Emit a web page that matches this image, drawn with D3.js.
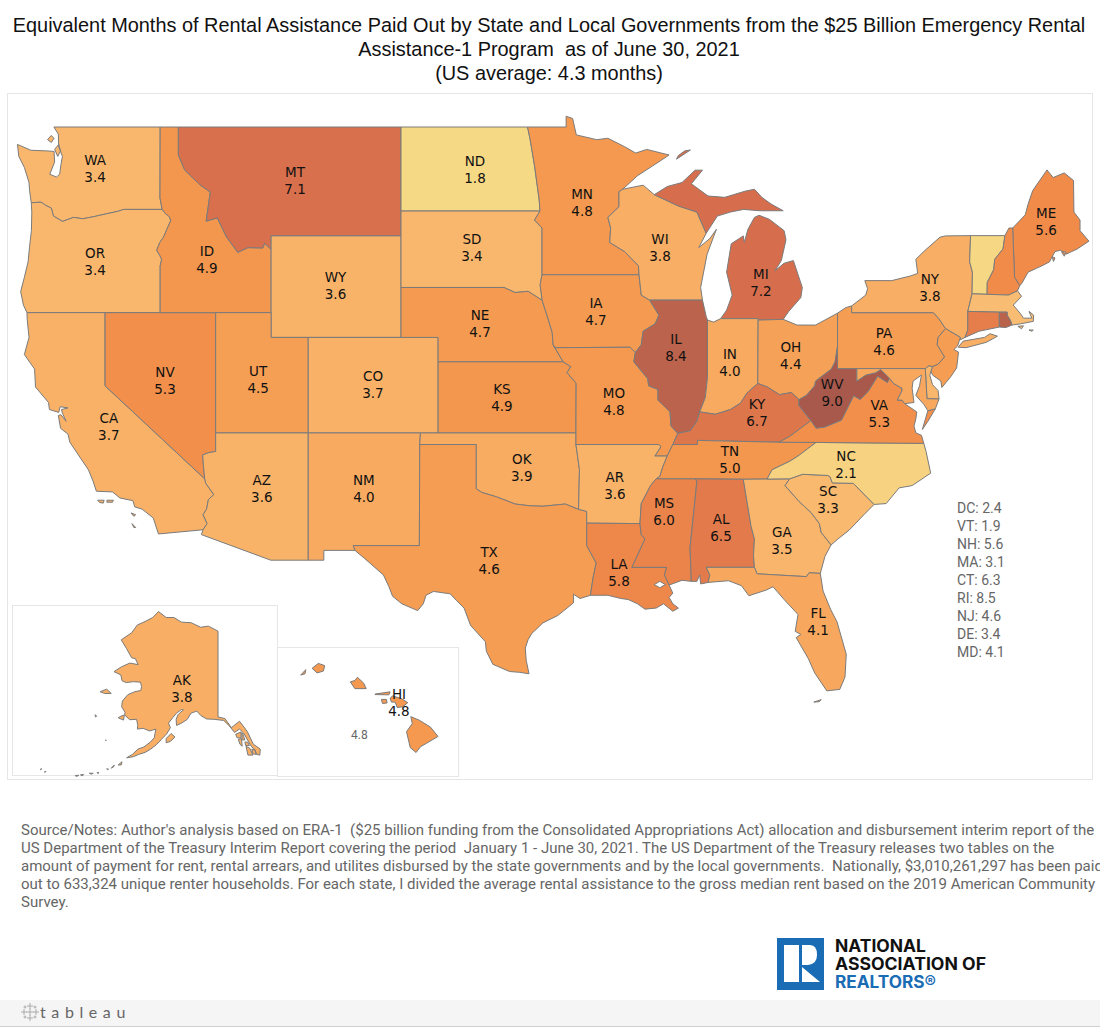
<!DOCTYPE html>
<html><head><meta charset="utf-8">
<script src="https://cdn.jsdelivr.net/npm/d3@7"></script>
<style>html,body{margin:0;padding:0;background:#fff;overflow:hidden}svg{display:block}</style>
</head><body><div id="c"></div>
<script>
const titleLines=["Equivalent Months of Rental Assistance Paid Out by State and Local Governments from the $25 Billion Emergency Rental","Assistance-1 Program  as of June 30, 2021","(US average: 4.3 months)"];
const noteLines=["Source/Notes: Author's analysis based on ERA-1  ($25 billion funding from the Consolidated Appropriations Act) allocation and disbursement interim report of the","US Department of the Treasury Interim Report covering the period  January 1 - June 30, 2021. The US Department of the Treasury releases two tables on the","amount of payment for rent, rental arrears, and utilites disbursed by the state governments and by the local governments.  Nationally, $3,010,261,297 has been paid","out to 633,324 unique renter households. For each state, I divided the average rental assistance to the gross median rent based on the 2019 American Community","Survey."];
const stateCodes=["WA","OR","CA","NV","ID","MT","WY","UT","AZ","CO","NM","ND","SD","NE","KS","OK","TX","MN","IA","MO","AR","LA","WI","IL","MI","IN","OH","KY","TN","MS","AL","GA","FL","SC","NC","WV","VA","PA","NY","ME","AK","HI","DC","VT","NH","MA","CT","RI","NJ","DE","MD"];
const stateValues=[3.4,3.4,3.7,5.3,4.9,7.1,3.6,4.5,3.6,3.7,4.0,1.8,3.4,4.7,4.9,3.9,4.6,4.8,4.7,4.8,3.6,5.8,3.8,8.4,7.2,4.0,4.4,6.7,5.0,6.0,6.5,3.5,4.1,3.3,2.1,9.0,5.3,4.6,3.8,5.6,3.8,4.8,2.4,1.9,5.6,3.1,6.3,8.5,4.6,3.4,4.1];
const sideCodes=["DC","VT","NH","MA","CT","RI","NJ","DE","MD"];
const colorStops=[1.8,3.4,4.8,5.6,7.1,8.5,9.0];
const colorRange=["#f6d985","#f9b76d","#f4994f","#f08b49","#d86f4d","#b9624c","#a8594c"];

// label anchors, longitude / latitude
const labelAnchors={WA:[-120.54,47.49],OR:[-120.54,43.98],CA:[-119.8,37.24],NV:[-116.77,39.19],ID:[-114.51,44.09],MT:[-109.76,47.04],WY:[-107.58,43.04],UT:[-111.75,39.26],AZ:[-111.55,34.55],CO:[-105.56,39.02],NM:[-106.05,34.55],ND:[-100.06,47.45],SD:[-100.23,44.53],NE:[-99.79,41.55],KS:[-98.61,38.47],OK:[-97.54,35.49],TX:[-99.3,31.27],MN:[-94.29,46.24],IA:[-93.54,42.02],MO:[-92.57,38.32],AR:[-92.52,34.7],LA:[-92.3,30.72],WI:[-90.09,44.52],IL:[-89.23,40.55],MI:[-84.65,43.17],IN:[-86.32,39.97],OH:[-83.04,40.26],KY:[-84.86,37.84],TN:[-86.32,35.84],MS:[-89.87,33.5],AL:[-86.8,32.81],GA:[-83.52,32.19],FL:[-81.57,28.44],SC:[-81.03,34.05],NC:[-80.06,35.59],WV:[-80.81,38.72],VA:[-78.27,37.81],PA:[-78.01,40.83],NY:[-75.54,42.97],ME:[-69.28,45.52],AK:[-150.4,63.75],HI:[-156.35,20.77]};

// state outlines, longitude / latitude rings
const outlines={
WA:[[[-122.76,49],[-117.03,49],[-117.04,46.42],[-116.92,46],[-119,46],[-119.3,45.93],[-119.9,45.84],[-120.6,45.73],[-121.2,45.65],[-121.7,45.7],[-122.3,45.55],[-122.78,45.75],[-122.9,46.05],[-123.2,46.15],[-123.45,46.27],[-123.98,46.25],[-124.07,46.7],[-124.1,47],[-124.35,47.55],[-124.65,47.95],[-124.72,48.38],[-124,48.17],[-123.2,48.15],[-122.75,48.13],[-122.72,47.75],[-122.98,47.3],[-122.62,47.2],[-122.45,47.3],[-122.38,47.65],[-122.3,47.95],[-122.5,48.3],[-122.52,48.75]],[[-122.75,48.6],[-122.9,48.7],[-123.1,48.55],[-122.9,48.45]],[[-122.72,48.2],[-122.5,48.38],[-122.4,48.15],[-122.55,47.95]]],
OR:[[[-123.98,46.25],[-123.45,46.27],[-123.2,46.15],[-122.9,46.05],[-122.78,45.75],[-122.3,45.55],[-121.7,45.7],[-121.2,45.65],[-120.6,45.73],[-119.9,45.84],[-119.3,45.93],[-119,46],[-116.92,46],[-116.76,45.85],[-116.53,45.72],[-116.46,45.58],[-116.67,45.25],[-116.85,44.95],[-117.05,44.75],[-117.22,44.45],[-117.05,44.25],[-116.95,44.1],[-117.03,43.85],[-117.03,42],[-124.21,42],[-124.4,42.3],[-124.55,42.84],[-124.35,43.4],[-124.15,44],[-124.07,44.6],[-123.97,45.2],[-123.95,45.9]]],
CA:[[[-124.21,42],[-120,42],[-120,39],[-114.63,35],[-114.57,34.8],[-114.14,34.3],[-114.43,34.08],[-114.53,33.65],[-114.72,33.4],[-114.5,33],[-114.72,32.72],[-117.12,32.53],[-117.25,32.85],[-117.4,33.25],[-118,33.65],[-118.4,33.75],[-118.5,34.03],[-119.2,34.15],[-119.6,34.42],[-120.47,34.45],[-120.65,34.9],[-120.9,35.4],[-121.9,36.6],[-122,36.95],[-122.4,37.2],[-122.52,37.75],[-122.38,37.78],[-122.1,37.5],[-122.3,37.85],[-122.35,38],[-122,38.07],[-122.42,38.12],[-122.5,37.88],[-123,38],[-123.05,38.3],[-123.75,38.95],[-123.8,39.7],[-124.35,40.3],[-124.1,41],[-124.2,41.75]],[[-119.9,34.05],[-119.55,34.05],[-119.6,33.96],[-119.9,33.96]],[[-120.4,34.05],[-120.05,34.05],[-120.1,33.92],[-120.3,33.95]],[[-118.6,33.48],[-118.35,33.4],[-118.45,33.33]],[[-118.55,33],[-118.35,32.82],[-118.45,32.82]]],
NV:[[[-120,42],[-114.04,42],[-114.04,36.2],[-114.4,36.15],[-114.74,36.05],[-114.7,35.6],[-114.63,35],[-120,39]]],
UT:[[[-114.04,42],[-111.05,42],[-111.05,41],[-109.05,41],[-109.05,37],[-114.04,37]]],
AZ:[[[-114.04,37],[-109.05,37],[-109.05,31.33],[-111.07,31.33],[-114.81,32.5],[-114.72,32.72],[-114.5,33],[-114.72,33.4],[-114.53,33.65],[-114.43,34.08],[-114.14,34.3],[-114.57,34.8],[-114.63,35],[-114.7,35.6],[-114.74,36.05],[-114.4,36.15],[-114.04,36.2]]],
NM:[[[-109.05,37],[-103,37],[-103.04,36.5],[-103.06,32],[-106.62,32],[-106.53,31.78],[-108.21,31.78],[-108.21,31.33],[-109.05,31.33]]],
CO:[[[-109.05,41],[-102.05,41],[-102.05,37],[-109.05,37]]],
WY:[[[-111.05,45],[-104.05,45],[-104.05,41],[-111.05,41]]],
MT:[[[-116.05,49],[-104.05,49],[-104.05,45],[-111.05,45],[-111.05,44.48],[-111.4,44.72],[-111.5,44.54],[-112.3,44.55],[-112.85,44.37],[-113.45,44.95],[-113.95,45.68],[-114.55,45.56],[-114.33,46.65],[-114.9,46.92],[-115.7,47.45],[-116.05,48]]],
ID:[[[-117.03,49],[-116.05,49],[-116.05,48],[-115.7,47.45],[-114.9,46.92],[-114.33,46.65],[-114.55,45.56],[-113.95,45.68],[-113.45,44.95],[-112.85,44.37],[-112.3,44.55],[-111.5,44.54],[-111.4,44.72],[-111.05,44.48],[-111.05,42],[-117.03,42],[-117.03,43.85],[-116.95,44.1],[-117.05,44.25],[-117.22,44.45],[-117.05,44.75],[-116.85,44.95],[-116.67,45.25],[-116.46,45.58],[-116.53,45.72],[-116.76,45.85],[-116.92,46],[-117.04,46.42]]],
ND:[[[-104.05,49],[-97.23,49],[-97.1,48.6],[-96.85,47.6],[-96.6,46.35],[-96.56,45.94],[-104.05,45.94]]],
SD:[[[-104.05,45.94],[-96.56,45.94],[-96.85,45.6],[-96.45,45.3],[-96.45,43.5],[-96.55,43.1],[-96.44,42.49],[-97.2,42.85],[-97.9,42.8],[-98.5,43],[-104.05,43]]],
NE:[[[-104.05,43],[-98.5,43],[-97.9,42.8],[-97.2,42.85],[-96.44,42.49],[-96.1,41.7],[-95.9,41.2],[-95.85,40.7],[-95.31,40],[-102.05,40],[-102.05,41],[-104.05,41]]],
KS:[[[-102.05,40],[-95.31,40],[-94.9,39.8],[-95.1,39.55],[-94.61,39.11],[-94.62,37],[-102.05,37]]],
OK:[[[-103,37],[-94.62,37],[-94.62,36.5],[-94.43,35.4],[-94.48,33.64],[-95.2,33.88],[-96.4,33.78],[-97.1,33.8],[-97.9,33.88],[-98.9,34.2],[-99.7,34.4],[-100,34.56],[-100,36.5],[-103.04,36.5]]],
TX:[[[-103.04,36.5],[-100,36.5],[-100,34.56],[-99.7,34.4],[-98.9,34.2],[-97.9,33.88],[-97.1,33.8],[-96.4,33.78],[-95.2,33.88],[-94.48,33.64],[-94.04,33.55],[-94.04,32],[-93.53,31.2],[-93.7,30.5],[-93.84,29.7],[-94.4,29.55],[-94.75,29.75],[-94.75,29.35],[-95.1,29.1],[-95.6,28.75],[-96.4,28.4],[-97,27.9],[-97.2,27.6],[-97.35,27.2],[-97.3,26.6],[-97.15,25.96],[-97.65,26.03],[-98.2,26.07],[-99.1,26.42],[-99.45,27.05],[-99.5,27.5],[-100.3,28.28],[-100.65,29.1],[-101.05,29.45],[-101.4,29.77],[-102.3,29.88],[-102.7,29.7],[-102.85,29.3],[-103.15,28.98],[-104,29.3],[-104.5,29.65],[-104.7,30.1],[-105,30.65],[-106,31.4],[-106.53,31.78],[-106.62,32],[-103.06,32]]],
MN:[[[-97.23,49],[-95.15,49],[-95.15,49.38],[-94.8,49.3],[-94.6,48.72],[-93.5,48.55],[-92.9,48.6],[-92,48.3],[-91.4,48.07],[-90.8,48.2],[-89.6,48],[-90.5,47.6],[-91.3,47.25],[-92.1,46.75],[-92.3,46.66],[-92.3,46.1],[-92.9,45.7],[-92.75,45.3],[-92.8,44.75],[-92,44.4],[-91.25,43.85],[-91.22,43.5],[-96.45,43.5],[-96.45,45.3],[-96.85,45.6],[-96.56,45.94],[-96.6,46.35],[-96.85,47.6],[-97.1,48.6]]],
IA:[[[-96.45,43.5],[-91.22,43.5],[-91.1,42.7],[-90.65,42.5],[-90.15,41.9],[-90.35,41.55],[-91,41.25],[-91.1,40.7],[-91.42,40.38],[-91.7,40.6],[-95.75,40.58],[-95.85,40.7],[-95.9,41.2],[-96.1,41.7],[-96.44,42.49],[-96.55,43.1]]],
MO:[[[-95.75,40.58],[-91.7,40.6],[-91.42,40.38],[-91.5,40],[-90.75,39.3],[-90.7,39],[-90.2,38.85],[-90.2,38.4],[-89.55,37.9],[-89.5,37.3],[-89.13,36.98],[-89.4,36.5],[-89.7,36],[-90.37,36],[-90.05,36.4],[-90.15,36.5],[-94.62,36.5],[-94.62,37],[-94.61,39.11],[-95.1,39.55],[-94.9,39.8],[-95.31,40],[-95.85,40.7]]],
AR:[[[-94.62,36.5],[-90.15,36.5],[-90.05,36.4],[-90.37,36],[-89.7,36],[-89.95,35.5],[-90.1,35.1],[-90.3,35],[-90.6,34.7],[-91.1,33.9],[-91.17,33],[-94.04,33.02],[-94.04,33.55],[-94.48,33.64],[-94.43,35.4]]],
LA:[[[-94.04,33.02],[-91.17,33],[-91.1,32.5],[-90.9,32.3],[-91.6,31],[-89.73,31],[-89.85,30.65],[-89.6,30.18],[-89.4,29.8],[-89.6,29.6],[-89.4,29.3],[-89.1,29.1],[-89.4,28.95],[-89.9,29.3],[-90.3,29.1],[-90.9,29.05],[-91.3,29.3],[-91.8,29.5],[-92.2,29.55],[-92.9,29.7],[-93.84,29.7],[-93.7,30.5],[-93.53,31.2],[-94.04,32]],[[-90.4,30.2],[-90.1,30.35],[-89.8,30.2],[-90.1,30.05]]],
MS:[[[-90.3,35],[-88.2,35],[-88.1,34.9],[-88.47,31.9],[-88.4,30.35],[-88.9,30.4],[-89.6,30.18],[-89.85,30.65],[-89.73,31],[-91.6,31],[-90.9,32.3],[-91.1,32.5],[-91.17,33],[-91.1,33.9],[-90.6,34.7]]],
TN:[[[-90.3,35],[-88.2,35],[-85.6,34.98],[-84.32,34.99],[-84.05,35.4],[-83.1,35.77],[-82.6,36.03],[-81.68,36.59],[-83.67,36.6],[-86.5,36.65],[-88.07,36.68],[-88.07,36.5],[-89.4,36.5],[-89.7,36],[-89.95,35.5],[-90.1,35.1]]],
KY:[[[-89.4,36.5],[-88.07,36.5],[-88.07,36.68],[-86.5,36.65],[-83.67,36.6],[-83.1,36.85],[-81.96,37.53],[-82.6,38.17],[-82.6,38.42],[-83,38.72],[-83.65,38.63],[-84.3,38.95],[-84.82,39.1],[-85.4,38.7],[-85.75,38.27],[-86.3,38],[-87.1,37.8],[-87.95,37.9],[-88.1,37.5],[-88.45,37.1],[-89.13,36.98]]],
IL:[[[-90.65,42.5],[-87.8,42.5],[-87.6,41.85],[-87.53,41.7],[-87.53,39.35],[-87.65,38.5],[-87.95,37.9],[-88.1,37.5],[-88.45,37.1],[-89.13,36.98],[-89.5,37.3],[-89.55,37.9],[-90.2,38.4],[-90.2,38.85],[-90.7,39],[-90.75,39.3],[-91.5,40],[-91.42,40.38],[-91.1,40.7],[-91,41.25],[-90.35,41.55],[-90.15,41.9]]],
WI:[[[-92.1,46.75],[-91,46.9],[-90.4,46.55],[-89.1,46.13],[-88.1,45.9],[-87.6,45.1],[-88,44.55],[-87.4,44.9],[-87.05,45.25],[-87.55,44.3],[-87.9,43],[-87.8,42.5],[-90.65,42.5],[-91.1,42.7],[-91.22,43.5],[-91.25,43.85],[-92,44.4],[-92.8,44.75],[-92.75,45.3],[-92.9,45.7],[-92.3,46.1],[-92.3,46.66]]],
MI:[[[-90.4,46.55],[-89.7,46.85],[-88.9,47],[-88.2,47.45],[-87.8,47.45],[-88.4,46.95],[-87.5,46.5],[-86.6,46.45],[-85.5,46.68],[-85,46.75],[-84.6,46.45],[-84.1,46.2],[-83.45,45.95],[-83.9,45.95],[-84.7,45.95],[-85.6,46],[-86.3,45.9],[-87,45.75],[-87.6,45.1],[-88.1,45.9],[-89.1,46.13]],[[-86.82,41.76],[-86.5,42.1],[-86.2,42.7],[-86.5,43.6],[-86.25,44.7],[-85.6,45],[-85.55,44.75],[-85.35,45.25],[-85,45.7],[-84.75,45.78],[-84.2,45.63],[-83.4,45.2],[-83.3,44.85],[-83.55,44.05],[-83.9,43.65],[-83.4,43.95],[-82.9,44.05],[-82.42,43],[-82.5,42.6],[-83.15,42.05],[-83.45,41.73],[-84.8,41.7],[-84.8,41.76]],[[-89.2,47.85],[-88.45,48.18],[-88.75,48.15],[-89.1,47.98]]],
IN:[[[-87.53,41.7],[-87.2,41.62],[-86.82,41.76],[-84.8,41.76],[-84.82,39.1],[-85.4,38.7],[-85.75,38.27],[-86.3,38],[-87.1,37.8],[-87.95,37.9],[-87.65,38.5],[-87.53,39.35]]],
OH:[[[-84.8,41.7],[-83.45,41.73],[-82.7,41.5],[-81.7,41.5],[-80.52,41.98],[-80.52,40.64],[-80.65,40],[-80.85,39.7],[-81.7,39.2],[-81.75,39],[-82.2,38.6],[-82.6,38.42],[-83,38.72],[-83.65,38.63],[-84.3,38.95],[-84.82,39.1]]],
WV:[[[-80.52,40.64],[-80.52,39.72],[-79.48,39.72],[-79.48,39.2],[-79,39.45],[-78.45,39.55],[-78.2,39.68],[-77.72,39.32],[-77.83,39.13],[-78.35,39.4],[-78.87,38.76],[-79.3,38.42],[-79.65,38.58],[-80.3,37.55],[-81.2,37.25],[-81.68,37.2],[-81.96,37.53],[-82.6,38.17],[-82.6,38.42],[-82.2,38.6],[-81.75,39],[-81.7,39.2],[-80.85,39.7],[-80.65,40]]],
VA:[[[-83.67,36.6],[-81.68,36.59],[-75.87,36.55],[-76,36.9],[-76.3,37],[-76.4,37.3],[-76.3,37.6],[-76.25,37.9],[-76.9,38.25],[-77.05,38.4],[-77.3,38.4],[-77.05,38.79],[-77.05,38.9],[-77.5,39.1],[-77.72,39.32],[-77.83,39.13],[-78.35,39.4],[-78.87,38.76],[-79.3,38.42],[-79.65,38.58],[-80.3,37.55],[-81.2,37.25],[-81.68,37.2],[-81.96,37.53],[-83.1,36.85]],[[-75.95,37.15],[-75.65,37.5],[-75.25,38.03],[-75.65,37.95]]],
MD:[[[-79.48,39.72],[-75.79,39.72],[-75.7,38.46],[-75.05,38.45],[-75.25,38.03],[-75.65,37.95],[-75.85,38.2],[-76.3,38.6],[-76.1,39],[-76,39.45],[-76.45,39.2],[-76.5,38.9],[-76.4,38.3],[-76.9,38.25],[-77.05,38.4],[-77.3,38.4],[-77.05,38.79],[-77.05,38.9],[-77.5,39.1],[-77.72,39.32],[-78.2,39.68],[-78.45,39.55],[-79,39.45],[-79.48,39.2]]],
DC:[[[-77.12,38.93],[-77.04,39],[-76.91,38.89],[-77.04,38.79]]],
DE:[[[-75.79,39.72],[-75.6,39.83],[-75.4,39.8],[-75.55,39.45],[-75.4,39.05],[-75.1,38.8],[-75.05,38.45],[-75.7,38.46]]],
PA:[[[-80.52,41.98],[-80.08,42.2],[-79.76,42.27],[-79.76,42],[-75.35,42],[-75.05,41.75],[-74.7,41.36],[-75.1,41],[-75.15,40.7],[-74.75,40.2],[-75.1,39.9],[-75.4,39.8],[-75.6,39.83],[-75.79,39.72],[-80.52,39.72]]],
NJ:[[[-74.7,41.36],[-73.9,41],[-74.05,40.65],[-74.25,40.5],[-74,40.4],[-74.1,39.75],[-74.4,39.4],[-74.9,38.93],[-74.95,39.2],[-75.4,39.45],[-75.5,39.65],[-75.4,39.8],[-75.1,39.9],[-74.75,40.2],[-75.15,40.7],[-75.1,41]]],
NY:[[[-79.76,42.27],[-79,42.7],[-78.9,42.95],[-79.05,43.27],[-77.6,43.27],[-76.6,43.45],[-76.2,43.55],[-76.3,44.1],[-75.8,44.45],[-75,44.95],[-74.7,45],[-73.35,45.01],[-73.4,44],[-73.25,43.6],[-73.27,42.75],[-73.5,42.05],[-73.5,41.3],[-73.65,41],[-73.9,40.9],[-73.9,41],[-74.7,41.36],[-75.05,41.75],[-75.35,42],[-79.76,42]],[[-74.02,40.6],[-73.75,40.85],[-72.6,41],[-72.3,41.15],[-71.9,41.05],[-72.5,40.8],[-73.6,40.58]]],
VT:[[[-73.35,45.01],[-71.5,45.01],[-71.6,44.5],[-72.05,44.1],[-72.1,43.7],[-72.45,43.2],[-72.46,42.73],[-73.27,42.75],[-73.25,43.6],[-73.4,44]]],
NH:[[[-71.5,45.01],[-71.28,45.3],[-71.08,45.3],[-70.98,43.4],[-70.7,43.07],[-70.82,42.87],[-71.3,42.7],[-72.46,42.73],[-72.45,43.2],[-72.1,43.7],[-72.05,44.1],[-71.6,44.5]]],
ME:[[[-71.08,45.3],[-70.4,45.8],[-70.25,46.2],[-70,46.7],[-69.23,47.46],[-68.9,47.18],[-68.3,47.35],[-67.8,47.07],[-67.78,45.9],[-67.45,45.6],[-67.45,45.2],[-66.97,44.8],[-67.6,44.5],[-67.9,44.4],[-68.2,44.3],[-68.5,44.45],[-68.8,44.4],[-69.1,44],[-69.5,43.85],[-69.8,43.75],[-70.25,43.6],[-70.6,43.15],[-70.7,43.07],[-70.98,43.4]],[[-68.45,44.4],[-68.2,44.38],[-68.3,44.22]],[[-68.95,44.2],[-68.8,44.15],[-68.88,44.02]]],
MA:[[[-73.5,42.05],[-73.27,42.75],[-72.46,42.73],[-71.3,42.7],[-70.82,42.87],[-70.6,42.65],[-71.05,42.3],[-70.65,41.95],[-70.5,41.78],[-70.05,41.78],[-70.2,42.05],[-69.95,41.9],[-69.97,41.65],[-70.65,41.55],[-71.12,41.5],[-71.2,41.68],[-71.38,41.9],[-71.38,42.02],[-71.8,42.02]],[[-70.8,41.45],[-70.5,41.47],[-70.6,41.35]],[[-70.2,41.3],[-69.97,41.3],[-70.05,41.25]]],
CT:[[[-73.5,42.05],[-71.8,42.02],[-71.8,41.42],[-72.9,41.25],[-73.65,41],[-73.5,41.3]]],
RI:[[[-71.8,42.02],[-71.38,42.02],[-71.38,41.9],[-71.2,41.68],[-71.12,41.5],[-71.45,41.4],[-71.8,41.42]]],
NC:[[[-84.32,34.99],[-84.05,35.4],[-83.1,35.77],[-82.6,36.03],[-81.68,36.59],[-75.87,36.55],[-75.75,36.2],[-75.5,35.25],[-76.5,34.7],[-77.2,34.6],[-77.9,33.9],[-78.55,33.86],[-79.67,34.8],[-80.8,34.82],[-80.93,35.1],[-81.05,35.15],[-82.4,35.2],[-83.1,35]]],
SC:[[[-83.1,35],[-82.4,35.2],[-81.05,35.15],[-80.93,35.1],[-80.8,34.82],[-79.67,34.8],[-78.55,33.86],[-79.1,33.4],[-79.9,32.7],[-80.5,32.3],[-80.87,32.03],[-81.4,32.6],[-81.5,33],[-81.95,33.5],[-82.6,34],[-83.35,34.7]]],
GA:[[[-85.6,34.98],[-84.32,34.99],[-83.1,35],[-83.35,34.7],[-82.6,34],[-81.95,33.5],[-81.5,33],[-81.4,32.6],[-80.87,32.03],[-81.2,31.5],[-81.45,30.72],[-82.05,30.75],[-82.2,30.57],[-84.86,30.7],[-85,31],[-85.05,31.55],[-85,32.3],[-85.18,32.87]]],
AL:[[[-88.2,35],[-85.6,34.98],[-85.18,32.87],[-85,32.3],[-85.05,31.55],[-85,31],[-87.6,31],[-87.4,30.65],[-87.5,30.3],[-87.9,30.23],[-87.95,30.65],[-88.1,30.35],[-88.4,30.35],[-88.47,31.9],[-88.1,34.9]]],
FL:[[[-87.6,31],[-85,31],[-84.86,30.7],[-82.2,30.57],[-82.05,30.75],[-81.45,30.72],[-81.3,29.9],[-80.9,29.05],[-80.55,28.45],[-80.05,26.9],[-80.12,25.8],[-80.4,25.2],[-81.1,25.13],[-81.75,26],[-82.1,26.7],[-82.75,27.7],[-82.5,27.85],[-82.8,28],[-82.65,28.8],[-83.4,29.5],[-84,30.1],[-84.35,29.95],[-85.3,29.68],[-85.7,30.15],[-86.4,30.38],[-87.5,30.3],[-87.4,30.65]],[[-81.8,24.58],[-81.4,24.7],[-81.5,24.6]]],
AK:[[[-141,69.65],[-143.5,70.1],[-145.5,70],[-148,70.4],[-150.5,70.45],[-152.5,70.85],[-154.5,70.85],[-156.5,71.35],[-158,70.85],[-160,70.5],[-162,70.2],[-163.5,69.5],[-166.2,68.85],[-164.8,68],[-163.5,67.1],[-162.5,67],[-161.8,66.4],[-164,66.55],[-166.2,66.15],[-168.1,65.65],[-166.3,65.3],[-166,64.65],[-164.9,64.45],[-163,64.55],[-161.2,64.5],[-160.9,64],[-161.1,63.55],[-162.7,63.4],[-164.5,63.05],[-165.9,62.3],[-166.1,61.6],[-165.2,60.9],[-165.3,60.55],[-164,59.95],[-162.2,60],[-161.9,59.2],[-162,58.7],[-160.5,58.8],[-158.8,58.45],[-157.2,58.7],[-157.4,58.1],[-157.6,57.5],[-158.6,56.9],[-160.3,56.2],[-161.8,55.9],[-163.3,55.1],[-164.8,54.6],[-163.1,54.75],[-161.7,55.1],[-160,55.4],[-158.5,55.9],[-157,56.55],[-155.7,57.3],[-154.3,58.1],[-153.4,58.9],[-153.9,59.5],[-152.8,60.2],[-151.8,60.8],[-150.5,61.25],[-150,61.2],[-151,60.8],[-151.4,60.6],[-151.9,60],[-151.8,59.2],[-150.5,59.5],[-149,60],[-148,60.8],[-146.5,61.05],[-145.5,60.5],[-144,60.05],[-142,60],[-139.5,59.85],[-138,59.1],[-136.7,58.25],[-135.4,58.7],[-134.4,58.2],[-133.6,57.5],[-133,56.9],[-132.2,56.2],[-131.5,55.9],[-130.9,55.1],[-130.1,55],[-130,55.9],[-131.8,56.6],[-133.4,58.4],[-135.4,59.75],[-137.5,58.9],[-139.2,60.1],[-141,60.3]],[[-136.4,58],[-135,58.3],[-135,57.5],[-136,57.5]],[[-135.7,57.3],[-134.9,57.4],[-134.7,56.3],[-135.3,56.6]],[[-134.8,58.2],[-134.5,58],[-134,57.2],[-134.7,57.2]],[[-133.7,56.3],[-132.7,56],[-131.9,55],[-133.2,55]],[[-134,56.9],[-133.3,56.9],[-132.8,56.4],[-133.8,56.4]],[[-132.2,55.9],[-131.4,55.75],[-131,55.1],[-131.9,55.2]],[[-171.7,63.4],[-170,63.7],[-168.8,63.2],[-170.5,63.2]],[[-166.3,60.4],[-165.4,60.55],[-165.6,59.9],[-167,60.2]],[[-154.5,57.4],[-153.2,58.1],[-152.2,57.6],[-153.4,57],[-154.5,56.8]],[[-173,60.6],[-172.6,60.4],[-172.9,60.3]],[[-170.3,57.2],[-170.1,57.2],[-170.2,57.1]],[[-167,53.5],[-166,54],[-166.2,53.5]],[[-168.8,53],[-168,53.5],[-168.2,53.2]],[[-170,52.9],[-169.5,52.85],[-169.7,52.75]],[[-172.5,52.3],[-172,52.3],[-172.3,52.15]],[[-174.5,52.2],[-173.5,52.2],[-174,52.05]],[[-176.8,51.95],[-176,52],[-176.4,51.75]],[[-178.2,51.8],[-177.3,51.9],[-177.6,51.7]],[[-186.9,52.9],[-187.3,52.85],[-187.2,52.75]],[[-185.8,52.5],[-186.2,52.4],[-186,52.35]]],
HI:[[[-160.25,21.8],[-160.05,22],[-160.08,21.85]],[[-159.8,22.05],[-159.55,22.23],[-159.3,22.15],[-159.35,21.95],[-159.6,21.88]],[[-158.28,21.55],[-158.1,21.3],[-157.65,21.3],[-157.75,21.5],[-158,21.72],[-158.1,21.6]],[[-157.3,21.1],[-156.7,21.18],[-156.75,21.07],[-157.3,21.08]],[[-157.05,20.9],[-156.85,20.9],[-156.82,20.77],[-157,20.75]],[[-156.7,20.95],[-156.6,21.03],[-156.25,20.93],[-156,20.78],[-156.2,20.63],[-156.42,20.6],[-156.5,20.8],[-156.65,20.8]],[[-155.88,20.26],[-155.55,20.13],[-155.1,19.87],[-154.8,19.52],[-155.5,19.13],[-155.67,18.92],[-155.9,19.1],[-156.05,19.7],[-155.82,20]]]
};

const W=1100,H=1027;
const svg=d3.select("#c").append("svg").attr("width",W).attr("height",H).attr("viewBox",[0,0,W,H]);
const value=new Map(stateCodes.map((c,i)=>[c,stateValues[i]]));
const color=d3.scaleLinear().domain(colorStops).range(colorRange).interpolate(d3.interpolateRgb);

const main=d3.geoMercator().scale(1063).center([-104.05,49]).translate([401,127]);
const akProj=d3.geoMercator().scale(220).rotate([141,0]).center([0,60.3]).translate([218,717]);
const hiProj=d3.geoMercator().scale(1443).rotate([155,0]).center([0.2,19.5]).translate([438,737]);
const projFor=c=>c==="AK"?akProj:c==="HI"?hiProj:main;

const frame=(x,y,w,h)=>svg.append("rect").attr("x",x).attr("y",y).attr("width",w).attr("height",h).attr("fill","none").attr("stroke","#e6e6e6");
frame(7.5,93.5,1085,686);frame(12.5,605.5,265,170);frame(277.5,647.5,181,129);

const lineGen=d3.line();
const ringPath=(rings,p)=>rings.map(r=>lineGen(r.map(p))+"Z").join("");
const order=stateCodes.slice().sort((a,b)=>(a==="CT"||a==="RI"?1:0)-(b==="CT"||b==="RI"?1:0));
svg.append("g").selectAll("path").data(order).join("path")
 .attr("d",c=>ringPath(outlines[c],projFor(c)))
 .attr("fill",c=>color(value.get(c)))
 .attr("fill-rule","evenodd")
 .attr("stroke","#7b7b7b").attr("stroke-width",1).attr("stroke-linejoin","round");

const lab=svg.append("g").attr("font-family","'DejaVu Sans'").attr("font-size",13.5).attr("fill","#111").attr("text-anchor","middle");
Object.keys(labelAnchors).forEach(c=>{
 const [x,y]=projFor(c)(labelAnchors[c]);
 lab.append("text").attr("x",x).attr("y",y-4).text(c);
 lab.append("text").attr("x",x).attr("y",y+13).text(d3.format(".1f")(value.get(c)));
});

const side=svg.append("g").attr("font-family","Roboto").attr("font-size",14).attr("fill","#666");
const sideY=d3.scalePoint().domain(sideCodes).range([513,657]);
sideCodes.forEach(c=>side.append("text").attr("x",957).attr("y",sideY(c)).text(c+": "+d3.format(".1f")(value.get(c))));
svg.append("text").attr("x",351).attr("y",739).attr("font-family","Roboto").attr("font-size",12).attr("fill","#666").text(d3.format(".1f")(value.get("HI")));

const t=svg.append("g").attr("font-family","'Liberation Sans'").attr("font-size",19.9).attr("fill","#111").attr("text-anchor","middle");
titleLines.forEach((s,i)=>t.append("text").attr("x",549).attr("y",32+i*24).style("white-space","pre").text(s));

const n=svg.append("g").attr("font-family","Roboto").attr("font-size",15).attr("fill","#666");
noteLines.forEach((s,i)=>n.append("text").attr("x",21).attr("y",835+i*17.9).style("white-space","pre").text(s));

const logo=svg.append("g");
logo.append("rect").attr("x",777).attr("y",938).attr("width",47).attr("height",52).attr("fill","#1a6cb5");
logo.append("rect").attr("x",784).attr("y",945).attr("width",15).attr("height",37).attr("fill","#fff");
logo.append("path").attr("fill","#fff").attr("d","M802 945H810Q817 945 817 955Q817 964 808 965L802 965Z");
logo.append("path").attr("fill","#fff").attr("d","M802 967L820 982H802Z");
const lt=(s,y,len,fill)=>logo.append("text").attr("x",835).attr("y",y).attr("font-family","Inter").attr("font-weight",700).attr("font-size",17).attr("fill",fill).attr("textLength",len).attr("lengthAdjust","spacingAndGlyphs").text(s);
lt("NATIONAL",952,91,"#111");lt("ASSOCIATION OF",970,151,"#111");lt("REALTORS®",988,101,"#1a6cb5");

svg.append("rect").attr("x",0).attr("y",1000).attr("width",W).attr("height",26).attr("fill","#f5f5f5");
svg.append("rect").attr("x",0).attr("y",1026).attr("width",W).attr("height",1).attr("fill","#cfcfcf");
const tb=svg.append("g").attr("stroke","#aaa").attr("stroke-width",1);
[[24,1012,3],[36,1012,3],[30,1006,3],[30,1018,3],[30,1012,3.5],[25,1007,1.5],[35,1007,1.5],[25,1017,1.5],[35,1017,1.5]].forEach(([x,y,r])=>{
 tb.append("line").attr("x1",x-r).attr("x2",x+r).attr("y1",y).attr("y2",y);
 tb.append("line").attr("x1",x).attr("x2",x).attr("y1",y-r).attr("y2",y+r);
});
svg.append("text").attr("x",40).attr("y",1018).attr("font-family","Lato").attr("font-size",16).attr("fill","#666").attr("letter-spacing","5.6px").text("tableau");
</script></body></html>
